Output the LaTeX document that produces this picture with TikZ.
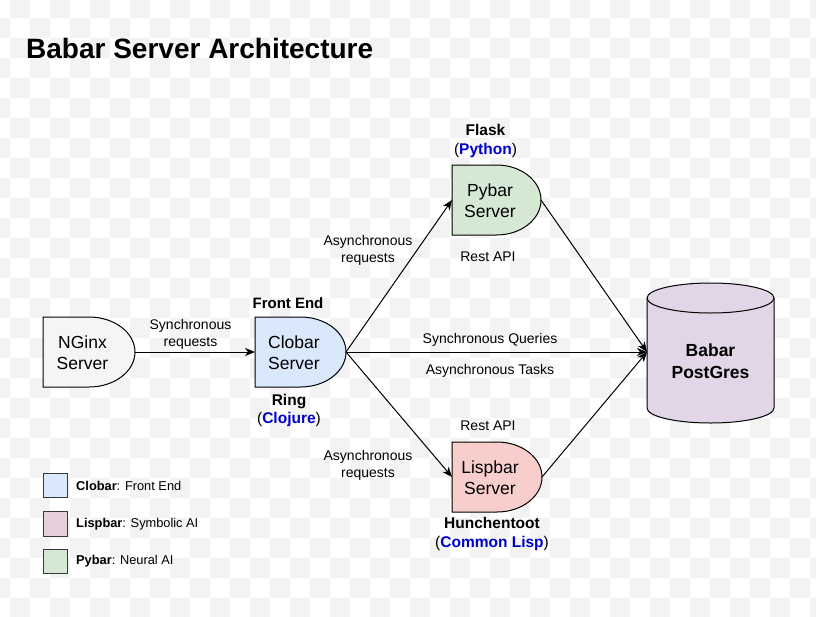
\documentclass[tikz,border=0pt]{standalone}
\usepackage{fontspec}
\setmainfont{Liberation Sans}
\usetikzlibrary{arrows.meta}
\definecolor{chk}{HTML}{F3F3F3}
\definecolor{ngx}{HTML}{F5F5F5}
\definecolor{clob}{HTML}{DAE8FC}
\definecolor{pyb}{HTML}{D5E8D4}
\definecolor{lspb}{HTML}{F8CECC}
\definecolor{lspleg}{HTML}{E6D0DE}
\definecolor{dbc}{HTML}{E1D5E7}
\definecolor{langblue}{HTML}{0000CC}
\definecolor{legline}{HTML}{36393D}
\tikzset{
  shp/.style={draw=black, line width=1pt},
  ntext/.style={font=\fontsize{17.5}{21}\selectfont, align=center, inner sep=0pt},
  lbl/.style={font=\fontsize{14}{17}\selectfont, align=center, inner sep=0pt},
  blbl/.style={font=\fontsize{15.5}{18.5}\selectfont, align=center, inner sep=0pt},
  dbtext/.style={font=\fontsize{17.5}{22}\selectfont\bfseries, align=center, inner sep=0pt},
  legbox/.style={draw=legline, line width=1pt},
  legtext/.style={font=\fontsize{12.8}{15}\selectfont, anchor=west, inner sep=0pt},
  arr/.style={draw=black, line width=1pt, -{Stealth[length=10pt,width=8pt,inset=3pt]}}
}
\newcommand\lang[1]{(\textcolor{langblue}{\textbf{#1}})}
\begin{document}
\begin{tikzpicture}[x=1pt,y=-1pt]
\useasboundingbox (0,0) rectangle (816,616);
\fill[white] (0,0) rectangle (816,616);
\begin{scope}
\clip (0,0) rectangle (816,616);
\foreach \i in {0,...,31}{\foreach \j in {0,...,41}{\pgfmathtruncatemacro\p{mod(\i+\j,2)}\ifnum\p=1 \fill[chk] (20*\j-10,20*\i-2) rectangle (20*\j+10,20*\i+18);\fi}}
\end{scope}

% title
\node[anchor=base west, inner sep=0pt, font=\fontsize{28}{33}\selectfont\bfseries] (title) at (26,58.5) {Babar Server Architecture};

% NGinx
\draw[shp, fill=ngx] (43,317) -- (89,317) arc[start angle=90, end angle=-90, x radius=46pt, y radius=35pt] -- (43,387) -- cycle;
\node[ntext] (nginx) at (82.5,352.5) {NGinx\\Server};
\coordinate (nginx-out) at (135,352);

% Clobar
\draw[shp, fill=clob] (255,317) -- (300.5,317) arc[start angle=90, end angle=-90, x radius=45.5pt, y radius=35pt] -- (255,387) -- cycle;
\node[ntext] (clobar) at (294,352.5) {Clobar\\Server};
\coordinate (clobar-in) at (255,352);
\coordinate (clobar-out) at (346,352);

% Pybar
\draw[shp, fill=pyb] (452,165) -- (496.5,165) arc[start angle=90, end angle=-90, x radius=44.5pt, y radius=35pt] -- (452,235) -- cycle;
\node[ntext] (pybar) at (490,200.5) {Pybar\\Server};
\coordinate (pybar-in) at (452,200);
\coordinate (pybar-out) at (541,200);

% Lispbar
\draw[shp, fill=lspb] (452,442) -- (497,442) arc[start angle=90, end angle=-90, x radius=45pt, y radius=35pt] -- (452,512) -- cycle;
\node[ntext] (lispbar) at (490,477.5) {Lispbar\\Server};
\coordinate (lispbar-in) at (452,477);
\coordinate (lispbar-out) at (542,477);

% Database
\draw[shp, fill=dbc] (647,298) -- (647,408) arc[start angle=180, end angle=360, x radius=63.5pt, y radius=15pt] -- (774,298) arc[start angle=0, end angle=180, x radius=63.5pt, y radius=15pt] -- cycle;
\draw[shp] (647,298) arc[start angle=180, end angle=360, x radius=63.5pt, y radius=15pt];
\node[dbtext] (db) at (710.5,361.5) {Babar\\PostGres};
\coordinate (db-in) at (647,352);

% connectors
\draw[arr] (nginx-out) -- (clobar-in);
\draw[arr] (clobar-out) -- (pybar-in);
\draw[arr] (clobar-out) -- (lispbar-in);
\draw[arr] (clobar-out) -- (db-in);
\draw[arr] (pybar-out) -- (db-in);
\draw[arr] (lispbar-out) -- (db-in);

% labels
\node[lbl] (syncreq) at (190.5,334.5) {Synchronous\\requests};
\node[blbl, font=\fontsize{15}{18.5}\selectfont\bfseries] (frontend) at (288,303) {Front End};
\node[blbl] (ring) at (289,410.5) {\textbf{Ring}\\\lang{Clojure}};
\node[blbl] (flask) at (485.5,141) {\textbf{Flask}\\\lang{Python}};
\node[lbl] (asyncreq1) at (368,250) {Asynchronous\\requests};
\node[lbl] (rest1) at (488,257) {Rest API};
\node[lbl] (syncq) at (490,340) {Synchronous Queries};
\node[lbl] (asynct) at (490,371) {Asynchronous Tasks};
\node[lbl] (rest2) at (488,426) {Rest API};
\node[lbl] (asyncreq2) at (368,465) {Asynchronous\\requests};
\node[blbl] (hunch) at (492,534) {\textbf{Hunchentoot}\\\lang{Common Lisp}};

% legend
\draw[legbox, fill=clob] (43,473) rectangle (67,497);
\node[legtext] (leg1) at (76,485.5) {\textbf{Clobar}: Front End};
\draw[legbox, fill=lspleg] (43,511) rectangle (67,536);
\node[legtext] (leg2) at (76,524) {\textbf{Lispbar}: Symbolic AI};
\draw[legbox, fill=pyb] (43,549) rectangle (67,573);
\node[legtext] (leg3) at (76,561.5) {\textbf{Pybar}: Neural AI};
\end{tikzpicture}
\end{document}
